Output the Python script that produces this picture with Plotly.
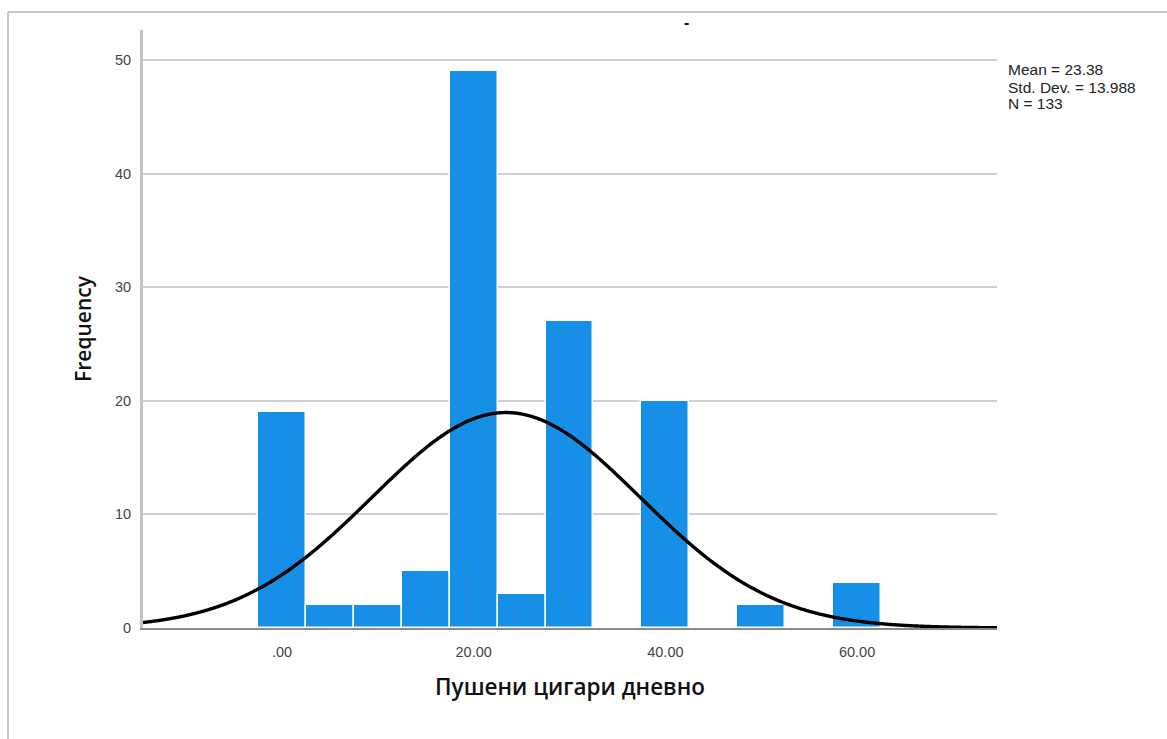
import numpy as np
import plotly.graph_objects as go

# Histogram of cigarettes smoked per day (bin width 5)
bin_centers = [0, 5, 10, 15, 20, 25, 30, 40, 50, 60]
frequencies = [19, 2, 2, 5, 49, 3, 27, 20, 2, 4]
bin_width = 5

mean_val = 23.38
std_val = 13.988
n_val = 133

x_ticks = [0, 20, 40, 60]
x_tick_labels = [".00", "20.00", "40.00", "60.00"]
y_ticks = [0, 10, 20, 30, 40, 50]

x_range = [-14.5, 74.6]
y_range = [0, 52.64]

# Normal curve scaled to counts
xs = np.linspace(x_range[0], x_range[1], 600)
ys = n_val * bin_width / (std_val * np.sqrt(2 * np.pi)) * np.exp(-0.5 * ((xs - mean_val) / std_val) ** 2)

fig = go.Figure()
fig.add_trace(go.Bar(
    x=bin_centers, y=frequencies, width=bin_width,
    marker=dict(color="#1590E6", line=dict(color="white", width=1.5)),
    showlegend=False, hoverinfo="x+y",
))
fig.add_trace(go.Scatter(
    x=xs, y=ys, mode="lines",
    line=dict(color="black", width=3.4, shape="spline", simplify=False),
    showlegend=False, hoverinfo="skip",
))

W, H = 1167, 739
L, R, T, B = 143, 170, 30, 111
pw, ph = W - L - R, H - T - B

def px(x):
    return (x - L) / pw

def py(y):
    return (H - B - y) / ph

stats_font = dict(size=15.5, color="#222")
title_family = "Open Sans, Liberation Sans, Arial, sans-serif"

fig.update_layout(
    width=W, height=H,
    margin=dict(l=L, r=R, t=T, b=B),
    paper_bgcolor="white", plot_bgcolor="white",
    font=dict(family="Liberation Sans, Arial, sans-serif", color="#333"),
    bargap=0,
    xaxis=dict(
        range=x_range, tickvals=x_ticks, ticktext=x_tick_labels,
        showgrid=False, zeroline=False,
        showline=True, linecolor="#8a8a8a", linewidth=1.5,
        ticks="", ticklabelstandoff=10,
        tickfont=dict(size=14.5, color="#444"),
        title=dict(text="Пушени цигари дневно", standoff=20,
                   font=dict(family=title_family, size=22.5, weight=600, color="#111")),
    ),
    yaxis=dict(
        range=y_range, tickvals=y_ticks,
        showgrid=True, gridcolor="#d0d0d0", gridwidth=1.5,
        zeroline=False,
        showline=True, linecolor="#c4c4c4", linewidth=3,
        ticks="", ticklabelstandoff=6,
        tickfont=dict(size=14.5, color="#444"),
        title=dict(text="Frequency", standoff=18,
                   font=dict(family=title_family, size=21, weight=600, color="#111")),
    ),
    shapes=[
        dict(type="line", xref="paper", yref="paper",
             x0=px(8), x1=px(W), y0=py(12), y1=py(12),
             line=dict(color="#c8c8c8", width=2)),
        dict(type="line", xref="paper", yref="paper",
             x0=px(8), x1=px(8), y0=py(12), y1=py(H),
             line=dict(color="#c8c8c8", width=2)),
    ],
    annotations=[
        dict(text="<b>-</b>", xref="paper", yref="paper", x=px(686), y=py(12),
             showarrow=False, font=dict(size=16, color="#111")),
        dict(text="Mean = 23.38", xref="paper", yref="paper", x=px(1006), y=py(70),
             xanchor="left", yanchor="middle", showarrow=False, font=stats_font),
        dict(text="Std. Dev. = 13.988", xref="paper", yref="paper", x=px(1006), y=py(87),
             xanchor="left", yanchor="middle", showarrow=False, font=stats_font),
        dict(text="N = 133", xref="paper", yref="paper", x=px(1006), y=py(103),
             xanchor="left", yanchor="middle", showarrow=False, font=stats_font),
    ],
)

fig.write_html("out.html")
